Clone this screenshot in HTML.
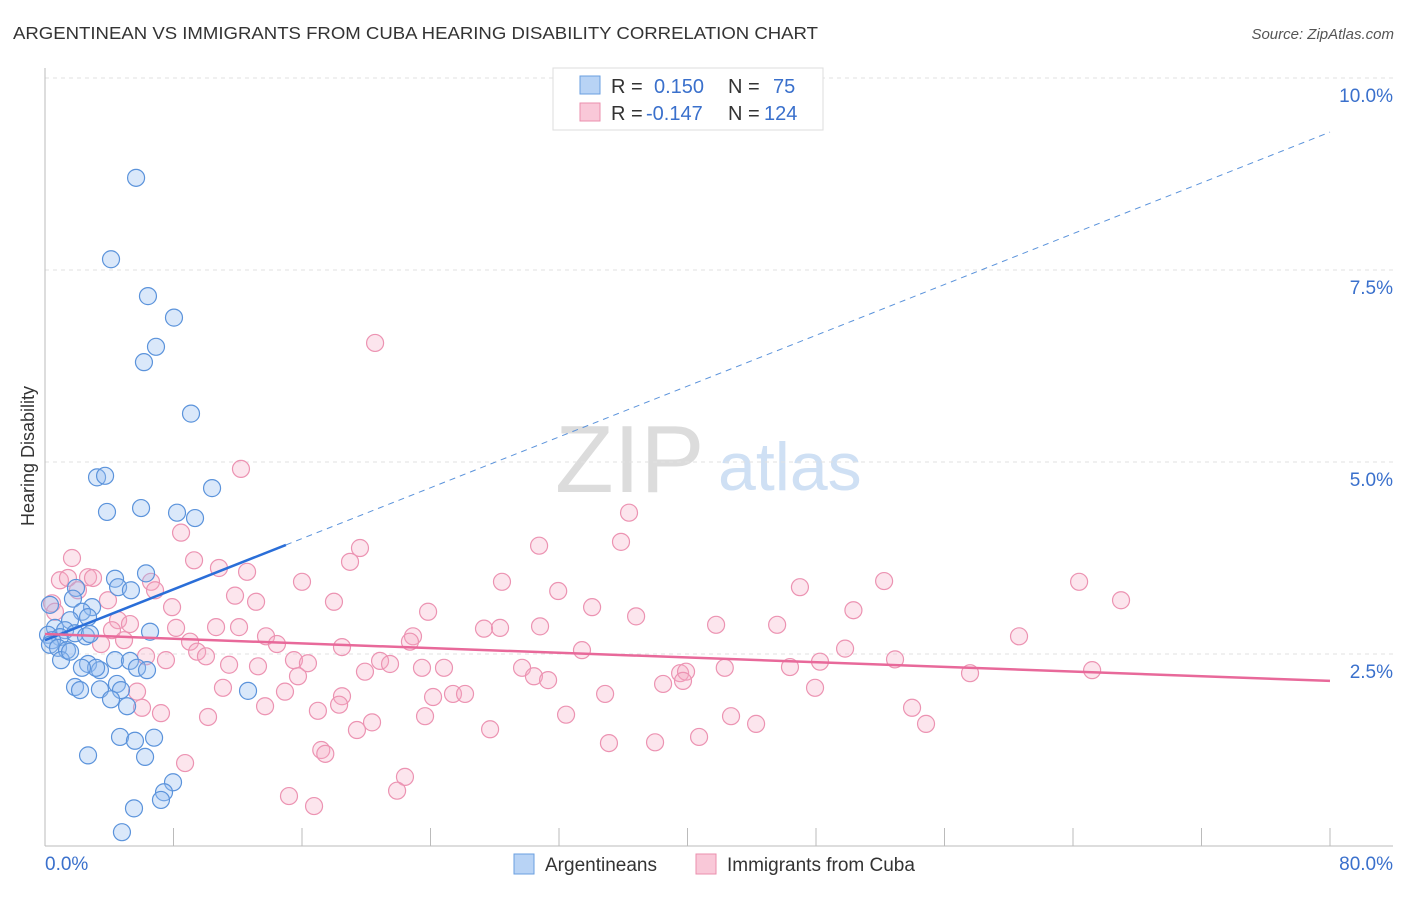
<!DOCTYPE html>
<html><head><meta charset="utf-8"><style>
body{margin:0;background:#fff;font-family:"Liberation Sans",sans-serif}
svg text{font-family:"Liberation Sans",sans-serif}
</style></head><body>
<svg id="chart" width="1406" height="892" xmlns="http://www.w3.org/2000/svg">
<text x="13" y="39" font-size="17.5" fill="#333" textLength="805" lengthAdjust="spacingAndGlyphs">ARGENTINEAN VS IMMIGRANTS FROM CUBA HEARING DISABILITY CORRELATION CHART</text>
<text x="1394" y="39" font-size="15" fill="#555" font-style="italic" text-anchor="end">Source: ZipAtlas.com</text>
<text x="555" y="492" font-size="96" font-family="Liberation Serif" fill="#dcdcdc">ZIP</text>
<text x="718" y="490" font-size="68" fill="#cfe0f4">atlas</text>
<g id="grid"></g>
<g id="axes"></g>
<g id="pink"></g>
<g id="blue"></g>
<g id="lines"></g>
<text transform="translate(34,456) rotate(-90)" font-size="18" fill="#333" text-anchor="middle">Hearing Disability</text>
<g>
<rect x="553" y="68" width="270" height="62" fill="#fff" stroke="#ddd"/>
<rect x="580" y="76" width="20" height="18" fill="#b8d3f5" stroke="#6a9fe0"/>
<rect x="580" y="103" width="20" height="18" fill="#f9c8d8" stroke="#eb8fae"/>
<text x="611" y="93" font-size="20" fill="#333">R = </text><text x="654" y="93" font-size="20" fill="#3a70cc">0.150</text>
<text x="728" y="93" font-size="20" fill="#333">N = </text><text x="773" y="93" font-size="20" fill="#3a70cc">75</text>
<text x="611" y="120" font-size="20" fill="#333">R = </text><text x="646" y="120" font-size="20" fill="#3a70cc">-0.147</text>
<text x="728" y="120" font-size="20" fill="#333">N = </text><text x="764" y="120" font-size="20" fill="#3a70cc">124</text>
</g>
<g>
<rect x="514" y="854" width="20" height="20" fill="#b8d3f5" stroke="#6a9fe0"/>
<text x="545" y="871" font-size="19" fill="#333">Argentineans</text>
<rect x="696" y="854" width="20" height="20" fill="#f9c8d8" stroke="#eb8fae"/>
<text x="727" y="871" font-size="19" fill="#333">Immigrants from Cuba</text>
</g>
</svg>
<script>
const yTicks=[2.5,5.0,7.5,10.0];
const xTicks=[0,8,16,24,32,40,48,56,64,72,80];
const blueX=[5.67,4.11,6.41,8.03,6.91,6.16,9.09,3.24,3.74,10.40,3.86,5.98,8.22,9.34,6.29,4.36,4.55,5.35,1.93,1.74,2.93,2.30,2.68,0.31,1.56,0.62,1.25,0.19,0.93,0.44,1.87,2.55,0.31,0.81,1.37,6.54,2.80,1.00,1.56,2.68,4.36,5.29,5.73,6.35,3.42,3.18,2.30,1.87,2.18,3.42,4.48,4.73,4.11,5.11,12.64,2.68,4.67,5.60,6.79,6.23,7.97,7.41,7.22,5.54,4.79];
const blueY=[8.70,7.64,7.16,6.88,6.50,6.30,5.63,4.80,4.82,4.66,4.35,4.40,4.34,4.27,3.55,3.48,3.37,3.33,3.36,3.22,3.11,3.05,2.98,3.14,2.94,2.84,2.81,2.75,2.72,2.68,2.77,2.73,2.62,2.58,2.55,2.79,2.76,2.42,2.53,2.37,2.42,2.41,2.32,2.29,2.29,2.32,2.32,2.07,2.03,2.04,2.11,2.03,1.91,1.82,2.02,1.18,1.42,1.37,1.41,1.16,0.83,0.70,0.60,0.49,0.18];
const pinkX=[20.55,12.20,36.36,8.47,30.76,35.86,19.61,18.99,1.68,9.28,10.83,12.58,0.93,1.43,2.68,2.99,6.60,6.85,2.05,16.00,28.45,47.00,52.24,64.38,31.95,11.83,13.14,17.99,66.99,3.92,0.44,0.62,7.91,34.06,23.85,50.33,36.80,4.55,5.29,4.17,8.16,10.65,12.08,27.33,28.33,30.82,41.78,45.58,13.76,22.91,22.72,60.64,9.03,14.44,18.49,33.43,49.81,3.49,4.92,6.29,9.47,10.02,7.53,15.50,16.37,20.86,21.48,23.47,24.84,11.46,13.26,29.70,30.44,31.32,39.54,39.91,42.32,46.38,48.25,52.92,57.59,65.19,15.75,19.92,39.72,38.48,47.94,11.08,14.94,5.73,18.49,24.16,25.40,26.15,34.87,13.70,18.31,16.99,6.04,7.22,10.15,20.36,23.66,32.44,42.71,53.98,19.42,27.71,44.27,54.85,35.11,37.98,40.72,17.20,17.45,8.72,22.41,21.92,15.19,16.75];
const pinkY=[6.55,4.91,4.34,4.08,3.91,3.96,3.88,3.70,3.75,3.72,3.62,3.57,3.46,3.49,3.50,3.49,3.44,3.33,3.33,3.44,3.44,3.37,3.45,3.44,3.32,3.26,3.18,3.18,3.20,3.20,3.16,3.05,3.11,3.11,3.05,3.07,2.99,2.94,2.89,2.81,2.84,2.85,2.85,2.83,2.84,2.86,2.88,2.88,2.73,2.73,2.66,2.73,2.66,2.63,2.59,2.55,2.57,2.63,2.68,2.47,2.53,2.47,2.42,2.42,2.38,2.41,2.37,2.32,2.32,2.36,2.34,2.32,2.21,2.16,2.25,2.27,2.32,2.33,2.40,2.43,2.25,2.29,2.21,2.27,2.15,2.11,2.06,2.06,2.01,2.01,1.95,1.94,1.98,1.98,1.98,1.82,1.84,1.76,1.80,1.73,1.68,1.61,1.69,1.71,1.69,1.80,1.51,1.52,1.59,1.59,1.34,1.35,1.42,1.25,1.20,1.08,0.90,0.72,0.65,0.52];
const blueTrend=[2.68,0.0827];
const pinkTrend=[2.76,-0.00763];
const blueSolidEnd=15;

const NS="http://www.w3.org/2000/svg";
const X=v=>45+v/80*1285, Y=v=>846-v*76.8;
function mk(tag,attrs,parent){const e=document.createElementNS(NS,tag);for(const k in attrs)e.setAttribute(k,attrs[k]);document.getElementById(parent).appendChild(e);return e;}
yTicks.forEach(t=>{
  const l=mk('line',{x1:45,x2:1393,y1:Y(t),y2:Y(t),stroke:'#e2e2e2','stroke-dasharray':'4,4'},'grid');
  
  
  const tx=mk('text',{x:1393,y:Y(t)+24,'font-size':19,fill:'#3a70cc','text-anchor':'end'},'grid');
  tx.textContent=t.toFixed(1)+'%';
  
  
});
mk('line',{x1:45,x2:45,y1:68,y2:846,stroke:'#bbb'},'axes');
mk('line',{x1:45,x2:1393,y1:846,y2:846,stroke:'#bbb'},'axes');
xTicks.forEach(t=>{
  const l=mk('line',{x1:X(t),x2:X(t),y1:828,y2:846,stroke:'#bbb'},'axes');
  
  
});
const xl0=mk('text',{x:45,y:870,'font-size':19,fill:'#3a70cc'},'axes');xl0.textContent=xTicks[0].toFixed(1)+'%';


const xl1=mk('text',{x:1393,y:870,'font-size':19,fill:'#3a70cc','text-anchor':'end'},'axes');xl1.textContent=xTicks[xTicks.length-1].toFixed(1)+'%';


pinkX.forEach((x,i)=>{
  const c=mk('circle',{cx:X(x),cy:Y(pinkY[i]),r:8.5,fill:'rgba(246,170,196,0.3)',stroke:'#ec93b2','stroke-width':1.2},'pink');
  
  
});
blueX.forEach((x,i)=>{
  const c=mk('circle',{cx:X(x),cy:Y(blueY[i]),r:8.5,fill:'rgba(150,190,240,0.35)',stroke:'#5b93db','stroke-width':1.2},'blue');
  
  
});
const bt=x=>blueTrend[0]+blueTrend[1]*x, pt=x=>pinkTrend[0]+pinkTrend[1]*x;
const l1=mk('line',{x1:X(0),y1:Y(bt(0)),x2:X(blueSolidEnd),y2:Y(bt(blueSolidEnd)),stroke:'#2a6ed8','stroke-width':2.5},'lines');


const l2=mk('line',{x1:X(blueSolidEnd),y1:Y(bt(blueSolidEnd)),x2:X(80),y2:Y(bt(80)),stroke:'#5b93db','stroke-width':1,'stroke-dasharray':'6,5'},'lines');


const l3=mk('line',{x1:X(0),y1:Y(pt(0)),x2:X(80),y2:Y(pt(80)),stroke:'#e8699a','stroke-width':2.5},'lines');


</script>
</body></html>
